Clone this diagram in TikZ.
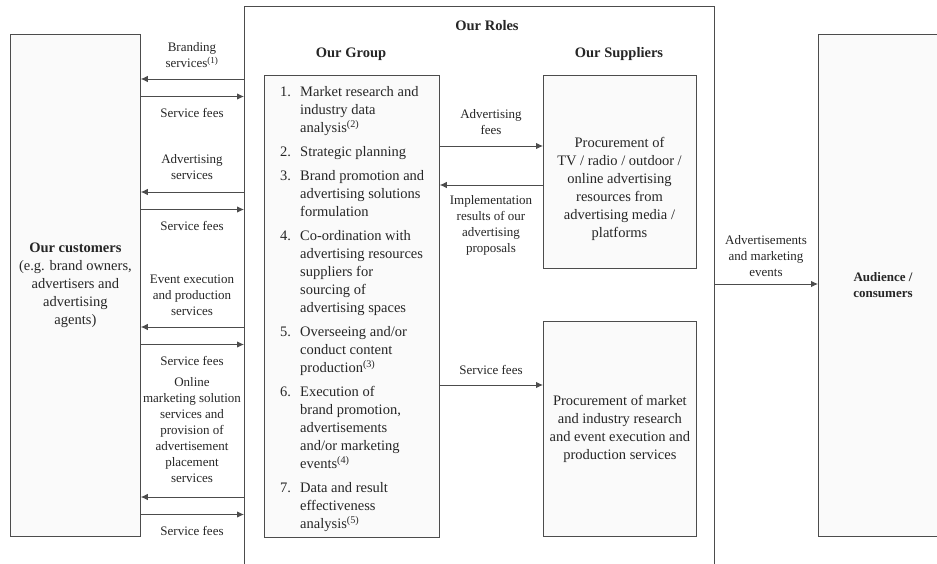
\documentclass[tikz,border=0pt]{standalone}
\usepackage{fontspec}
\setmainfont{Liberation Serif}
\usetikzlibrary{arrows.meta,positioning}

\tikzset{
  box/.style={draw=black!70, fill=black!2, line width=0.8pt, inner sep=0pt},
  lbl/.style={align=center, text=black!85, font=\fontsize{13}{16}\selectfont},
  boxtext/.style={align=center, text=black!85, font=\fontsize{14.5}{18}\selectfont},
  head/.style={text=black!85, font=\fontsize{14.5}{18}\selectfont\bfseries},
  flow/.style={draw=black!70, line width=0.9pt, -{Latex[length=7pt,width=6.5pt]}},
}

\begin{document}
\begin{tikzpicture}[x=1pt, y=-1pt]
  \useasboundingbox (0,0) rectangle (937,564);

  % Define boxes
  \node[box, anchor=north west, minimum width=130, minimum height=502] (cust) at (10,34) {};
  \node[box, fill=white, anchor=north west, minimum width=470, minimum height=600] (roles) at (244,6) {};
  \node[box, anchor=north west, minimum width=175, minimum height=462] (group) at (264,75) {};
  \node[box, anchor=north west, minimum width=153, minimum height=193] (sup1) at (543,75) {};
  \node[box, anchor=north west, minimum width=153, minimum height=215] (sup2) at (543,321) {};
  \node[box, anchor=north west, minimum width=130, minimum height=502] (aud) at (818,34) {};

  % Headings and box texts
  \node[head] (rolestitle) at (487,26) {Our Roles};
  \node[head] (grouptitle) at (351,54) {Our Group};
  \node[head] (suptitle) at (619,54) {Our Suppliers};
  \node[boxtext] (custtext) at (cust.center) {\textbf{Our customers}\\(e.g. brand owners,\\advertisers and\\advertising\\agents)};
  \node[lbl, font=\fontsize{13}{16}\selectfont\bfseries] (audtext) at (883,285) {Audience /\\consumers};
  \node[boxtext] (sup1text) at (619.5,189) {Procurement of\\TV / radio / outdoor /\\online advertising\\resources from\\advertising media /\\platforms};
  \node[boxtext] (sup2text) at (sup2.center) {Procurement of market\\and industry research\\and event execution and\\production services};
  \node[boxtext, align=left, anchor=north west, inner sep=0pt] (steps) at (280,83.7) {%
    \begin{tabular}{@{}p{20pt}@{}l@{}}
    1. & Market research and\\
       & industry data\\
       & analysis\textsuperscript{(2)}\\[6pt]
    2. & Strategic planning\\[6pt]
    3. & Brand promotion and\\
       & advertising solutions\\
       & formulation\\[6pt]
    4. & Co-ordination with\\
       & advertising resources\\
       & suppliers for\\
       & sourcing of\\
       & advertising spaces\\[6pt]
    5. & Overseeing and/or\\
       & conduct content\\
       & production\textsuperscript{(3)}\\[6pt]
    6. & Execution of\\
       & brand promotion,\\
       & advertisements\\
       & and/or marketing\\
       & events\textsuperscript{(4)}\\[6pt]
    7. & Data and result\\
       & effectiveness\\
       & analysis\textsuperscript{(5)}
    \end{tabular}};

  % Customers <-> our roles
  \foreach \y in {79,192,327,497} {
    \draw[flow] (roles.west |- 0,\y) -- (cust.east |- 0,\y);
    \draw[flow] (cust.east |- 0,\y+17.5) -- (roles.west |- 0,\y+17.5);
    \node[lbl] at (192,\y+33.5) {Service fees};
  }
  \node[lbl] (brand) at (192,55.5) {Branding\\services\textsuperscript{(1)}};
  \node[lbl] (adserv) at (192,167.5) {Advertising\\services};
  \node[lbl] (event) at (192,295) {Event execution\\and production\\services};
  \node[lbl] (online) at (192,430.5) {Online\\marketing solution\\services and\\provision of\\advertisement\\placement\\services};

  % Our group <-> suppliers
  \draw[flow] (group.east |- 0,146) -- (sup1.west |- 0,146);
  \draw[flow] (sup1.west |- 0,185) -- (group.east |- 0,185);
  \draw[flow] (group.east |- 0,385) -- (sup2.west |- 0,385);
  \node[lbl] (adfees) at (491,122.5) {Advertising\\fees};
  \node[lbl] (impl) at (491,225.5) {Implementation\\results of our\\advertising\\proposals};
  \node[lbl] (supfees) at (491,370) {Service fees};

  % Our roles -> audience
  \draw[flow] (roles.east |- 0,284) -- (aud.west |- 0,284);
  \node[lbl] (adevents) at (766,256) {Advertisements\\and marketing\\events};
\end{tikzpicture}
\end{document}
